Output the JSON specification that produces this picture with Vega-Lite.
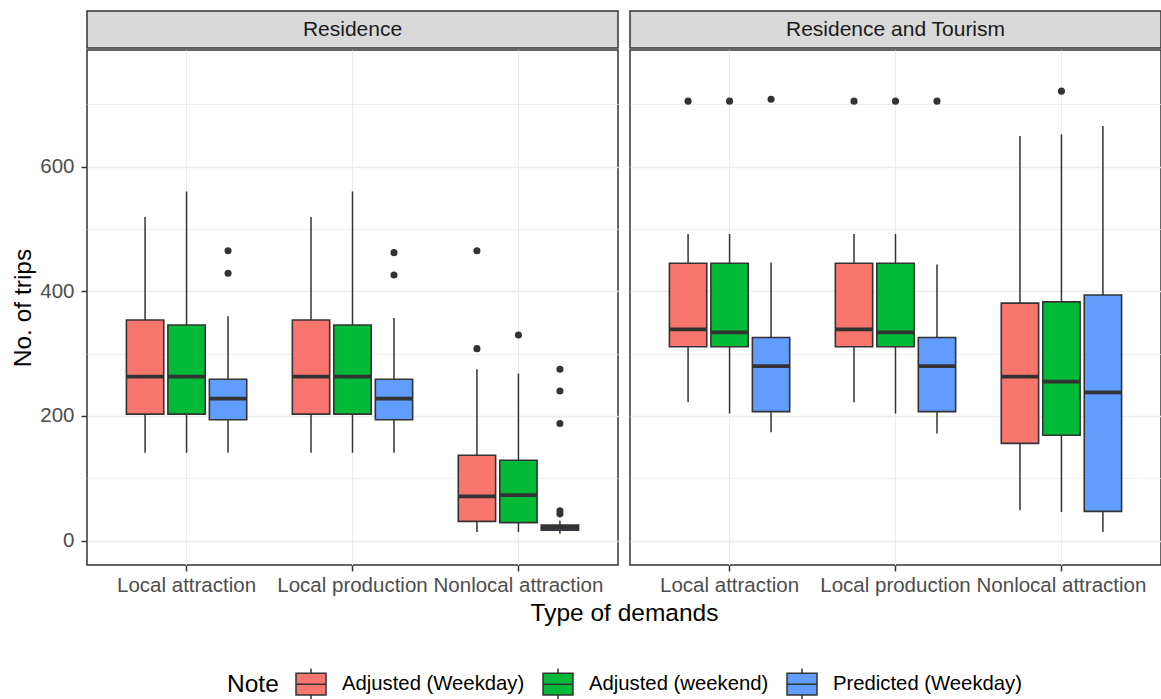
{
  "$schema": "https://vega.github.io/schema/vega-lite/v6.json",
  "background": "white",
  "padding": {"left": 10, "top": 10, "right": 0, "bottom": 2},
  "datasets": {
    "strips": [{"panel": "Residence"}, {"panel": "Residence and Tourism"}],
    "boxes": [
      {"panel": "Residence", "type": "Local attraction", "note": "Adjusted (Weekday)", "lower": 141, "q1": 203, "median": 263, "q3": 354, "upper": 519},
      {"panel": "Residence", "type": "Local attraction", "note": "Adjusted (weekend)", "lower": 141, "q1": 203, "median": 263, "q3": 346, "upper": 560},
      {"panel": "Residence", "type": "Local attraction", "note": "Predicted (Weekday)", "lower": 141, "q1": 194, "median": 228, "q3": 259, "upper": 360},
      {"panel": "Residence", "type": "Local production", "note": "Adjusted (Weekday)", "lower": 141, "q1": 203, "median": 263, "q3": 354, "upper": 519},
      {"panel": "Residence", "type": "Local production", "note": "Adjusted (weekend)", "lower": 141, "q1": 203, "median": 263, "q3": 346, "upper": 560},
      {"panel": "Residence", "type": "Local production", "note": "Predicted (Weekday)", "lower": 141, "q1": 194, "median": 228, "q3": 259, "upper": 357},
      {"panel": "Residence", "type": "Nonlocal attraction", "note": "Adjusted (Weekday)", "lower": 14, "q1": 31, "median": 71, "q3": 137, "upper": 275},
      {"panel": "Residence", "type": "Nonlocal attraction", "note": "Adjusted (weekend)", "lower": 14, "q1": 29, "median": 73, "q3": 129, "upper": 268},
      {"panel": "Residence", "type": "Nonlocal attraction", "note": "Predicted (Weekday)", "lower": 11, "q1": 17, "median": 21, "q3": 25, "upper": 32},
      {"panel": "Residence and Tourism", "type": "Local attraction", "note": "Adjusted (Weekday)", "lower": 222, "q1": 311, "median": 339, "q3": 445, "upper": 492},
      {"panel": "Residence and Tourism", "type": "Local attraction", "note": "Adjusted (weekend)", "lower": 204, "q1": 311, "median": 334, "q3": 445, "upper": 492},
      {"panel": "Residence and Tourism", "type": "Local attraction", "note": "Predicted (Weekday)", "lower": 174, "q1": 207, "median": 280, "q3": 326, "upper": 446},
      {"panel": "Residence and Tourism", "type": "Local production", "note": "Adjusted (Weekday)", "lower": 222, "q1": 311, "median": 339, "q3": 445, "upper": 492},
      {"panel": "Residence and Tourism", "type": "Local production", "note": "Adjusted (weekend)", "lower": 204, "q1": 311, "median": 334, "q3": 445, "upper": 492},
      {"panel": "Residence and Tourism", "type": "Local production", "note": "Predicted (Weekday)", "lower": 172, "q1": 207, "median": 280, "q3": 326, "upper": 443},
      {"panel": "Residence and Tourism", "type": "Nonlocal attraction", "note": "Adjusted (Weekday)", "lower": 49, "q1": 156, "median": 263, "q3": 381, "upper": 649},
      {"panel": "Residence and Tourism", "type": "Nonlocal attraction", "note": "Adjusted (weekend)", "lower": 46, "q1": 169, "median": 255, "q3": 383, "upper": 652},
      {"panel": "Residence and Tourism", "type": "Nonlocal attraction", "note": "Predicted (Weekday)", "lower": 14, "q1": 47, "median": 238, "q3": 394, "upper": 665}
    ],
    "outliers": [
      {"panel": "Residence", "type": "Local attraction", "note": "Predicted (Weekday)", "value": 429},
      {"panel": "Residence", "type": "Local attraction", "note": "Predicted (Weekday)", "value": 465},
      {"panel": "Residence", "type": "Local production", "note": "Predicted (Weekday)", "value": 426},
      {"panel": "Residence", "type": "Local production", "note": "Predicted (Weekday)", "value": 462},
      {"panel": "Residence", "type": "Nonlocal attraction", "note": "Adjusted (Weekday)", "value": 308},
      {"panel": "Residence", "type": "Nonlocal attraction", "note": "Adjusted (Weekday)", "value": 465},
      {"panel": "Residence", "type": "Nonlocal attraction", "note": "Adjusted (weekend)", "value": 330},
      {"panel": "Residence", "type": "Nonlocal attraction", "note": "Predicted (Weekday)", "value": 43},
      {"panel": "Residence", "type": "Nonlocal attraction", "note": "Predicted (Weekday)", "value": 48},
      {"panel": "Residence", "type": "Nonlocal attraction", "note": "Predicted (Weekday)", "value": 188},
      {"panel": "Residence", "type": "Nonlocal attraction", "note": "Predicted (Weekday)", "value": 240},
      {"panel": "Residence", "type": "Nonlocal attraction", "note": "Predicted (Weekday)", "value": 275},
      {"panel": "Residence and Tourism", "type": "Local attraction", "note": "Adjusted (Weekday)", "value": 705},
      {"panel": "Residence and Tourism", "type": "Local attraction", "note": "Adjusted (weekend)", "value": 705},
      {"panel": "Residence and Tourism", "type": "Local attraction", "note": "Predicted (Weekday)", "value": 708},
      {"panel": "Residence and Tourism", "type": "Local production", "note": "Adjusted (Weekday)", "value": 705},
      {"panel": "Residence and Tourism", "type": "Local production", "note": "Adjusted (weekend)", "value": 705},
      {"panel": "Residence and Tourism", "type": "Local production", "note": "Predicted (Weekday)", "value": 705},
      {"panel": "Residence and Tourism", "type": "Nonlocal attraction", "note": "Adjusted (weekend)", "value": 721}
    ]
  },
  "spacing": 0,
  "vconcat": [
    {
      "bounds": "flush",
      "spacing": 12,
      "hconcat": [
        {
          "width": 531, "height": 37,
          "data": {"name": "strips"},
          "transform": [{"filter": {"field": "panel", "equal": "Residence"}}],
          "view": {"fill": "#d9d9d9", "stroke": "#333333", "strokeWidth": 1.5},
          "mark": {"type": "text", "fontSize": 21, "color": "#1a1a1a"},
          "encoding": {"text": {"field": "panel", "type": "nominal"}}
        },
        {
          "width": 531, "height": 37,
          "data": {"name": "strips"},
          "transform": [{"filter": {"field": "panel", "equal": "Residence and Tourism"}}],
          "view": {"fill": "#d9d9d9", "stroke": "#333333", "strokeWidth": 1.5},
          "mark": {"type": "text", "fontSize": 21, "color": "#1a1a1a"},
          "encoding": {"text": {"field": "panel", "type": "nominal"}}
        }
      ]
    },
    {
      "bounds": "flush",
      "spacing": 12,
      "hconcat": [
        {
          "width": 531, "height": 515,
          "layer": [
            {
              "data": {"name": "boxes"},
              "transform": [{"filter": {"field": "panel", "equal": "Residence"}}],
              "mark": {"type": "rule", "color": "#333333", "strokeWidth": 1.5},
              "encoding": {
                "x": {"field": "type", "type": "nominal", "sort": ["Local attraction", "Local production", "Nonlocal attraction"], "scale": {"paddingInner": 0, "paddingOuter": 0.1}, "axis": {"title": "Type of demands", "titleX": 537, "titleAlign": "center", "labelAngle": 0, "grid": true, "labelPadding": 4, "titlePadding": 6}},
                "xOffset": {"field": "note", "type": "nominal", "sort": ["Adjusted (Weekday)", "Adjusted (weekend)", "Predicted (Weekday)"], "scale": {"paddingInner": 0.1, "paddingOuter": 0.55}},
                "y": {"field": "lower", "type": "quantitative", "scale": {"domain": [-39, 787], "nice": false, "zero": false}, "axis": {"title": "No. of trips", "values": [0, 100, 200, 300, 400, 500, 600, 700], "labelExpr": "datum.value % 200 === 0 ? datum.label : ''", "tickOpacity": {"condition": {"test": "datum.value % 200 !== 0", "value": 0}, "value": 1}, "gridWidth": {"condition": {"test": "datum.value % 200 !== 0", "value": 0.8}, "value": 1.5}, "labelPadding": 7, "titlePadding": 4}},
                "y2": {"field": "upper"}
              }
            },
            {
              "data": {"name": "boxes"},
              "transform": [{"filter": {"field": "panel", "equal": "Residence"}}],
              "mark": {"type": "bar", "stroke": "#333333", "strokeWidth": 1.6},
              "encoding": {
                "x": {"field": "type", "type": "nominal", "sort": ["Local attraction", "Local production", "Nonlocal attraction"]},
                "xOffset": {"field": "note", "type": "nominal", "sort": ["Adjusted (Weekday)", "Adjusted (weekend)", "Predicted (Weekday)"]},
                "y": {"field": "q1", "type": "quantitative"},
                "y2": {"field": "q3"},
                "fill": {"field": "note", "type": "nominal", "scale": {"domain": ["Adjusted (Weekday)", "Adjusted (weekend)", "Predicted (Weekday)"], "range": ["#F8766D", "#00BA38", "#619CFF"]}, "legend": {"title": "Note", "orient": "none", "legendX": 140, "legendY": 657, "direction": "horizontal", "titleOrient": "left", "titleFontSize": 24.5, "titleFontWeight": "normal", "titleColor": "#000000", "titleBaseline": "middle", "titlePadding": 16, "labelFontSize": 20.3, "labelColor": "#000000", "labelLimit": 400, "labelOffset": 15, "columnPadding": 15, "symbolType": "M-1,-0.73H1V0.73H-1Z M-1,0H1 M0,-0.73V-1.05 M0,0.73V1.05", "symbolSize": 900, "symbolStrokeColor": "#333333", "symbolStrokeWidth": 1.5, "symbolOpacity": 1, "symbolFillOpacity": 1}}
              }
            },
            {
              "data": {"name": "boxes"},
              "transform": [{"filter": {"field": "panel", "equal": "Residence"}}],
              "mark": {"type": "bar", "fillOpacity": 0, "stroke": "#333333", "strokeWidth": 3.8},
              "encoding": {
                "x": {"field": "type", "type": "nominal", "sort": ["Local attraction", "Local production", "Nonlocal attraction"]},
                "xOffset": {"field": "note", "type": "nominal", "sort": ["Adjusted (Weekday)", "Adjusted (weekend)", "Predicted (Weekday)"]},
                "y": {"field": "median", "type": "quantitative"},
                "y2": {"field": "median"}
              }
            },
            {
              "data": {"name": "outliers"},
              "transform": [{"filter": {"field": "panel", "equal": "Residence"}}],
              "mark": {"type": "circle", "size": 50, "color": "#333333", "opacity": 1},
              "encoding": {
                "x": {"field": "type", "type": "nominal", "sort": ["Local attraction", "Local production", "Nonlocal attraction"]},
                "xOffset": {"field": "note", "type": "nominal", "sort": ["Adjusted (Weekday)", "Adjusted (weekend)", "Predicted (Weekday)"]},
                "y": {"field": "value", "type": "quantitative"}
              }
            }
          ]
        },
        {
          "width": 531, "height": 515,
          "layer": [
            {
              "data": {"name": "boxes"},
              "transform": [{"filter": {"field": "panel", "equal": "Residence and Tourism"}}],
              "mark": {"type": "rule", "color": "#333333", "strokeWidth": 1.5},
              "encoding": {
                "x": {"field": "type", "type": "nominal", "sort": ["Local attraction", "Local production", "Nonlocal attraction"], "scale": {"paddingInner": 0, "paddingOuter": 0.1}, "axis": {"title": null, "labelAngle": 0, "grid": true, "labelPadding": 4}},
                "xOffset": {"field": "note", "type": "nominal", "sort": ["Adjusted (Weekday)", "Adjusted (weekend)", "Predicted (Weekday)"], "scale": {"paddingInner": 0.1, "paddingOuter": 0.55}},
                "y": {"field": "lower", "type": "quantitative", "scale": {"domain": [-39, 787], "nice": false, "zero": false}, "axis": {"title": null, "labels": false, "ticks": false, "values": [0, 100, 200, 300, 400, 500, 600, 700], "gridWidth": {"condition": {"test": "datum.value % 200 !== 0", "value": 0.8}, "value": 1.5}}},
                "y2": {"field": "upper"}
              }
            },
            {
              "data": {"name": "boxes"},
              "transform": [{"filter": {"field": "panel", "equal": "Residence and Tourism"}}],
              "mark": {"type": "bar", "stroke": "#333333", "strokeWidth": 1.6},
              "encoding": {
                "x": {"field": "type", "type": "nominal", "sort": ["Local attraction", "Local production", "Nonlocal attraction"]},
                "xOffset": {"field": "note", "type": "nominal", "sort": ["Adjusted (Weekday)", "Adjusted (weekend)", "Predicted (Weekday)"]},
                "y": {"field": "q1", "type": "quantitative"},
                "y2": {"field": "q3"},
                "fill": {"field": "note", "type": "nominal"}
              }
            },
            {
              "data": {"name": "boxes"},
              "transform": [{"filter": {"field": "panel", "equal": "Residence and Tourism"}}],
              "mark": {"type": "bar", "fillOpacity": 0, "stroke": "#333333", "strokeWidth": 3.8},
              "encoding": {
                "x": {"field": "type", "type": "nominal", "sort": ["Local attraction", "Local production", "Nonlocal attraction"]},
                "xOffset": {"field": "note", "type": "nominal", "sort": ["Adjusted (Weekday)", "Adjusted (weekend)", "Predicted (Weekday)"]},
                "y": {"field": "median", "type": "quantitative"},
                "y2": {"field": "median"}
              }
            },
            {
              "data": {"name": "outliers"},
              "transform": [{"filter": {"field": "panel", "equal": "Residence and Tourism"}}],
              "mark": {"type": "circle", "size": 50, "color": "#333333", "opacity": 1},
              "encoding": {
                "x": {"field": "type", "type": "nominal", "sort": ["Local attraction", "Local production", "Nonlocal attraction"]},
                "xOffset": {"field": "note", "type": "nominal", "sort": ["Adjusted (Weekday)", "Adjusted (weekend)", "Predicted (Weekday)"]},
                "y": {"field": "value", "type": "quantitative"}
              }
            }
          ]
        }
      ]
    }
  ],
  "config": {
    "font": "Liberation Sans",
    "view": {"stroke": "#333333", "strokeWidth": 1.5},
    "axis": {
      "domain": false,
      "gridColor": "#ebebeb",
      "tickColor": "#333333",
      "tickSize": 6,
      "tickWidth": 1.5,
      "labelColor": "#4d4d4d",
      "labelFontSize": 20.5,
      "labelFont": "Liberation Sans",
      "titleFont": "Liberation Sans",
      "titleFontSize": 24.5,
      "titleFontWeight": "normal",
      "titleColor": "#000000"
    },
    "legend": {"labelFont": "Liberation Sans", "titleFont": "Liberation Sans"}
  }
}
